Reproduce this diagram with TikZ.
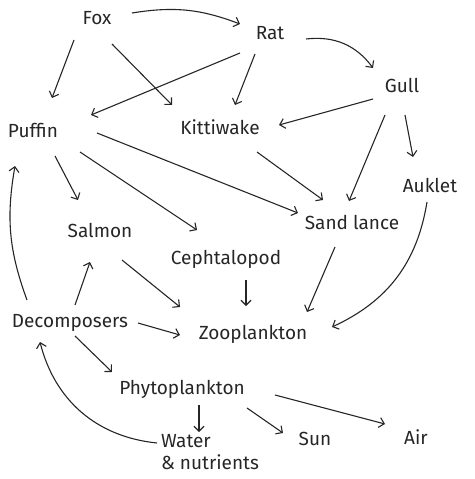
\documentclass[tikz,border=0pt]{standalone}
\usepackage{fontspec}
\setmainfont{Fira Sans}
\usetikzlibrary{arrows.meta,calc}
\begin{document}
\begin{tikzpicture}[x=1pt,y=-1pt,
  lbl/.style={inner sep=0pt,font=\fontsize{19}{22}\selectfont,text=black!85},
  arr/.style={draw=black!85,line width=1.1pt,-{Straight Barb[length=5pt,width=10pt,line width=1.1pt]}}]
\useasboundingbox (0,0) rectangle (474,479);
\node[lbl] (fox) at (97,18) {Fox};
\node[lbl] (rat) at (270,33) {Rat};
\node[lbl] (gull) at (402,85) {Gull};
\node[lbl] (puffin) at (33,130) {Puffin};
\node[lbl] (kitti) at (220,127) {Kittiwake};
\node[lbl] (auklet) at (430,185) {Auklet};
\node[lbl] (sand) at (352,222) {Sand lance};
\node[lbl] (salmon) at (100,230) {Salmon};
\node[lbl] (ceph) at (226,259) {Cephtalopod};
\node[lbl] (decomp) at (70,323) {Decomposers};
\node[lbl] (zoo) at (253,334) {Zooplankton};
\node[lbl] (phyto) at (182,389) {Phytoplankton};
\node[lbl,align=left] (water) at (210,452) {Water\\\& nutrients};
\node[lbl] (sun) at (315,439) {Sun};
\node[lbl] (air) at (416,437) {Air};

\draw[arr] ($(fox)+(35,-5)$) to[bend left=15] ($(rat)+(-30,-9)$);
\draw[arr] ($(fox)+(-23,22)$) -- ($(puffin)+(19,-32)$);
\draw[arr] ($(fox)+(15,26)$) -- ($(kitti)+(-48,-22)$);
\draw[arr] ($(rat)+(36,6)$) to[bend left=30] ($(gull)+(-29,-17)$);
\draw[arr] ($(rat)+(-30,20)$) -- ($(puffin)+(58,-15)$);
\draw[arr] ($(rat)+(-15,21)$) -- ($(kitti)+(15,-22)$);
\draw[arr] ($(gull)+(-29,14)$) -- ($(kitti)+(59,-2)$);
\draw[arr] ($(gull)+(-17,30)$) -- ($(sand)+(-3,-21)$);
\draw[arr] ($(gull)+(3,30)$) -- ($(auklet)+(-17,-28)$);
\draw[arr] ($(puffin)+(64,3)$) -- ($(sand)+(-54,-9)$);
\draw[arr] ($(puffin)+(22,26)$) -- ($(salmon)+(-22,-30)$);
\draw[arr] ($(puffin)+(47,22)$) -- ($(ceph)+(-29,-29)$);
\draw[arr] ($(kitti)+(37,25)$) -- ($(sand)+(-29,-22)$);
\draw[arr] ($(auklet)+(-3,17)$) to[bend left=28] ($(zoo)+(79,-7)$);
\draw[arr] ($(sand)+(-17,25)$) -- ($(zoo)+(54,-22)$);
\draw[arr] ($(ceph)+(20,21)$) -- ($(zoo)+(-7,-28)$);
\draw[arr] ($(salmon)+(22,30)$) -- ($(zoo)+(-73,-27)$);
\draw[arr] ($(decomp)+(5,-18)$) -- ($(salmon)+(-10,32)$);
\draw[arr] ($(decomp)+(-43,-23)$) to[bend left=15] ($(puffin)+(-18,36)$);
\draw[arr] ($(decomp)+(68,0)$) -- ($(zoo)+(-73,1)$);
\draw[arr] ($(decomp)+(5,13)$) -- ($(phyto)+(-70,-17)$);
\draw[arr] ($(water)+(-53,-9)$) to[bend left=35] ($(decomp)+(-30,19)$);
\draw[arr] ($(phyto)+(17,16)$) -- ($(water)+(-11,-20)$);
\draw[arr] ($(phyto)+(65,19)$) -- ($(sun)+(-32,-6)$);
\draw[arr] ($(phyto)+(93,6)$) -- ($(air)+(-31,-13)$);
\end{tikzpicture}
\end{document}
